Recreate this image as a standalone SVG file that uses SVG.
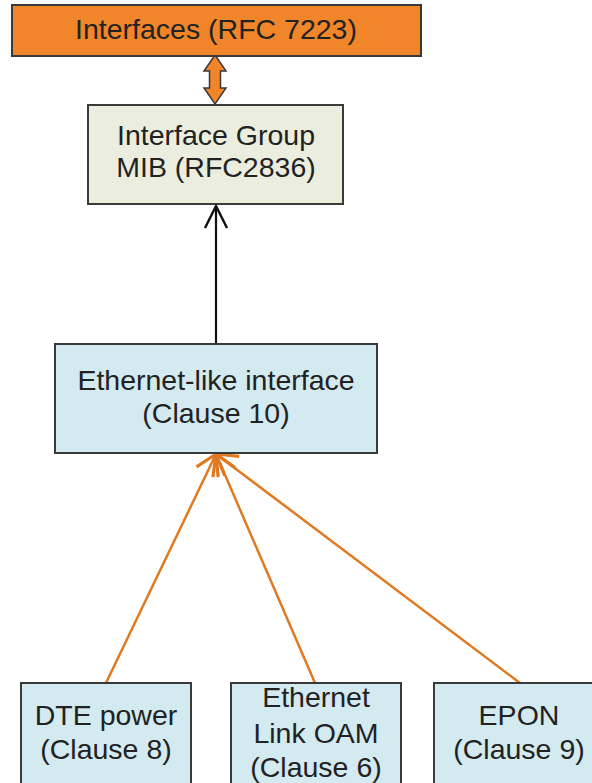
<svg xmlns="http://www.w3.org/2000/svg" width="592" height="783" viewBox="0 0 592 783">
<defs>
<style>
.box{stroke:#3a3a3a;stroke-width:2}
.orange{fill:#F0852A}
.green{fill:#EBEEDF}
.blue{fill:#D3EAF0}
text{font-family:"Liberation Sans",Arial,sans-serif;font-size:28.5px;fill:#222;text-anchor:middle}
.olink{stroke:#E07A20;stroke-width:2.5;fill:none}
.blink{stroke:#111;stroke-width:2.2;fill:none}
</style>
<marker id="openO" viewBox="0 0 24 28" refX="22" refY="14" markerWidth="24" markerHeight="28" markerUnits="userSpaceOnUse" orient="auto">
<path d="M2,2 L22,14 L2,26" fill="none" stroke="#E07A20" stroke-width="3.2"/>
</marker>
<marker id="openB" viewBox="0 0 26 24" refX="24" refY="12" markerWidth="26" markerHeight="24" markerUnits="userSpaceOnUse" orient="auto">
<path d="M2,1 L24,12 L2,23" fill="none" stroke="#111" stroke-width="2.4"/>
</marker>
</defs>
<rect width="592" height="783" fill="#fff"/>
<g id="connectors">
<path class="orange" d="M215,55 L226,71 L220.5,71 L220.5,88 L226,88 L215,104 L204,88 L209.5,88 L209.5,71 L204,71 Z" stroke="#3a3a3a" stroke-width="1.5"/>
<line class="blink" x1="216" y1="345" x2="216" y2="206" marker-end="url(#openB)"/>
<line class="olink" x1="106" y1="683" x2="216" y2="454" marker-end="url(#openO)"/>
<line class="olink" x1="315" y1="683" x2="216" y2="454" marker-end="url(#openO)"/>
<line class="olink" x1="520" y1="683" x2="216" y2="454" marker-end="url(#openO)"/>
</g>
<g id="interfaces">
<rect class="box orange" x="12" y="5" width="409" height="51"/>
<text x="216" y="39">Interfaces (RFC 7223)</text>
</g>
<g id="ifgroup">
<rect class="box green" x="88" y="105" width="255" height="99"/>
<text x="216" y="145">Interface Group</text>
<text x="216" y="177">MIB (RFC2836)</text>
</g>
<g id="etherlike">
<rect class="box blue" x="55" y="344" width="322" height="109"/>
<text x="216" y="390">Ethernet-like interface</text>
<text x="216" y="423">(Clause 10)</text>
</g>
<g id="dtepower">
<rect class="box blue" x="21" y="683" width="170" height="110"/>
<text x="106" y="725">DTE power</text>
<text x="106" y="759">(Clause 8)</text>
</g>
<g id="linkoam">
<rect class="box blue" x="231" y="683" width="170" height="110"/>
<text x="316" y="707">Ethernet</text>
<text x="316" y="743">Link OAM</text>
<text x="316" y="777">(Clause 6)</text>
</g>
<g id="epon">
<rect class="box blue" x="434" y="683" width="170" height="110"/>
<text x="519" y="725">EPON</text>
<text x="519" y="759">(Clause 9)</text>
</g>
</svg>
